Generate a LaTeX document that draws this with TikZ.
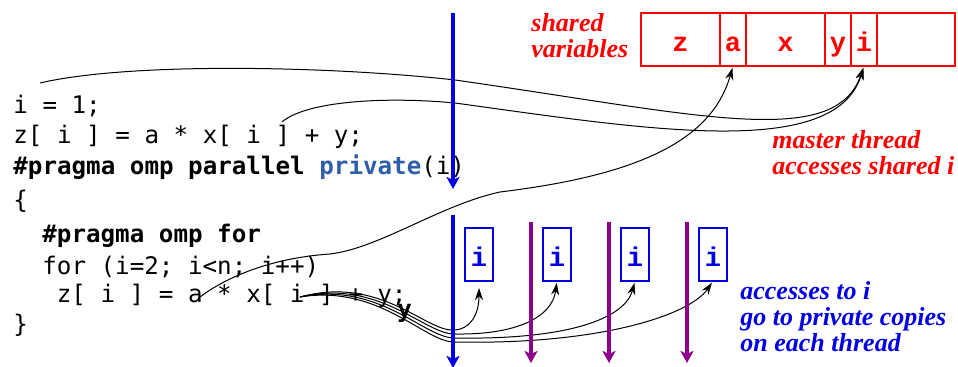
\documentclass[tikz,border=0pt]{standalone}
\usepackage{fontspec}
\setmainfont{Liberation Serif}
\setmonofont{DejaVu Sans Mono}
\newfontfamily\cellfont{Liberation Mono}
\usetikzlibrary{arrows.meta, positioning}

\definecolor{codeblue}{RGB}{46,95,168}
\definecolor{threadblue}{RGB}{0,0,225}
\definecolor{threadpurple}{RGB}{140,0,140}

\begin{document}
\begin{tikzpicture}[x=0.5pt, y=-0.5pt,
		% Define styles
		codeline/.style={anchor=base west, inner sep=0pt, font=\ttfamily\fontsize{12.1}{14}\selectfont},
		cellbox/.style={rectangle, draw=red, line width=1.4pt, minimum height=26.5pt, inner sep=0pt, outer sep=0pt, text=red, font=\cellfont\bfseries\fontsize{13.5}{13}\selectfont, text height=12.5pt, text depth=0pt},
		privbox/.style={rectangle, draw=threadblue, line width=1.4pt, minimum width=14pt, minimum height=26.5pt, inner sep=0pt, outer sep=0pt, text=threadblue, font=\cellfont\bfseries\fontsize{13.5}{13}\selectfont, text height=12.5pt, text depth=0pt},
		threadarrow/.style={line width=1.6pt, -{Stealth[length=6pt, width=6.5pt, inset=1.5pt]}},
		accessarrow/.style={->, >={Stealth[length=6pt, width=4pt]}, line width=0.5pt, shorten >=1pt},
		note/.style={anchor=base west, inner sep=0pt, align=left, font=\bfseries\itshape\fontsize{13}{13}\selectfont}
	]
	\useasboundingbox (0,0) rectangle (958,367);
	
	% Source code
	\node[codeline] (code1) at (13,114) {i = 1;};
	\node[codeline] (code2) at (13,144) {z[ i ] = a * x[ i ] + y;};
	\node[codeline] (code3) at (13,175) {\textbf{\#pragma omp parallel} \textcolor{codeblue}{\textbf{private}}(i)};
	\node[codeline] (code4) at (13,209) {\{};
	\node[codeline] (code5) at (42,243) {\textbf{\#pragma omp for}};
	\node[codeline] (code6) at (42,275) {for (i=2; i<n; i++)};
	\node[codeline] (code7) at (56.5,303) {z[ i ] = a * x[ i ] + y;};
	\node[codeline] (code8) at (13,333) {\}};
	\node[codeline, font=\ttfamily\bfseries\fontsize{12.1}{14}\selectfont] (ystray) at (397,318) {y};
	
	% Shared variables
	\node[cellbox, minimum width=39.5pt] (cz) at (680.5,39.5) {z};
	\node[cellbox, minimum width=13pt, right=0pt of cz] (ca) {a};
	\node[cellbox, minimum width=39.5pt, right=0pt of ca] (cx) {x};
	\node[cellbox, minimum width=13pt, right=0pt of cx] (cy) {y};
	\node[cellbox, minimum width=13pt, right=0pt of cy] (ci) {i};
	\node[cellbox, minimum width=39pt, right=0pt of ci] (cfree) {};
	
	% Private copies of i
	\node[privbox] (p1) at (479,254.5) {i};
	\node[privbox, right=25pt of p1] (p2) {i};
	\node[privbox, right=25pt of p2] (p3) {i};
	\node[privbox, right=25pt of p3] (p4) {i};
	
	% Notes (base is the last line)
	\node[note, text=red] (sharednote) at (531,58) {shared\\variables};
	\node[note, text=red] (masternote) at (772,175) {master thread\\accesses shared i};
	\node[note, text=threadblue] (privnote) at (740,352) {accesses to i\\go to private copies\\on each thread};
	
	% Start points of the accesses
	\coordinate (s1) at (40,83);
	\coordinate (s2) at (282,122);
	\coordinate (s3) at (200,297);
	\coordinate (s4) at (300,297);
	
	% Master thread accesses shared variables
	\draw[accessarrow] (s1) .. controls (130,62) and (330,66) .. (455,80) .. controls (700,115) and (835,150) .. (ci.south);
	\draw[accessarrow] (s2) .. controls (305,102) and (380,96) .. (455,103) .. controls (650,130) and (835,160) .. (ci.south);
	\draw[accessarrow] (s3) .. controls (225,278) and (270,258) .. (330,254) .. controls (380,248) and (440,205) .. (500,192) .. controls (640,175) and (712,140) .. (ca.south);
	
	% Accesses to private copies
	\draw[accessarrow, shorten >=3.5pt] (s4) .. controls (380,275) and (425,331) .. (453,330) .. controls (470,330) and (479,315) .. (p1.south);
	\draw[accessarrow] (s4) .. controls (380,278) and (425,335) .. (455,334) .. controls (515,335) and (552,318) .. (p2.south);
	\draw[accessarrow] (s4) .. controls (380,281) and (425,339) .. (455,338) .. controls (570,340) and (625,318) .. (p3.south);
	\draw[accessarrow] (s4) .. controls (380,284) and (425,343) .. (455,342) .. controls (600,345) and (690,315) .. (p4.south);
	
	% Threads
	\draw[threadarrow, threadblue] (453,13) -- (453,189);
	\draw[threadarrow, threadblue] (453,215) -- (453,368);
	\draw[threadarrow, threadpurple] (531,222) -- (531,363);
	\draw[threadarrow, threadpurple] (609,222) -- (609,363);
	\draw[threadarrow, threadpurple] (687,222) -- (687,363);
	
\end{tikzpicture}
\end{document}
